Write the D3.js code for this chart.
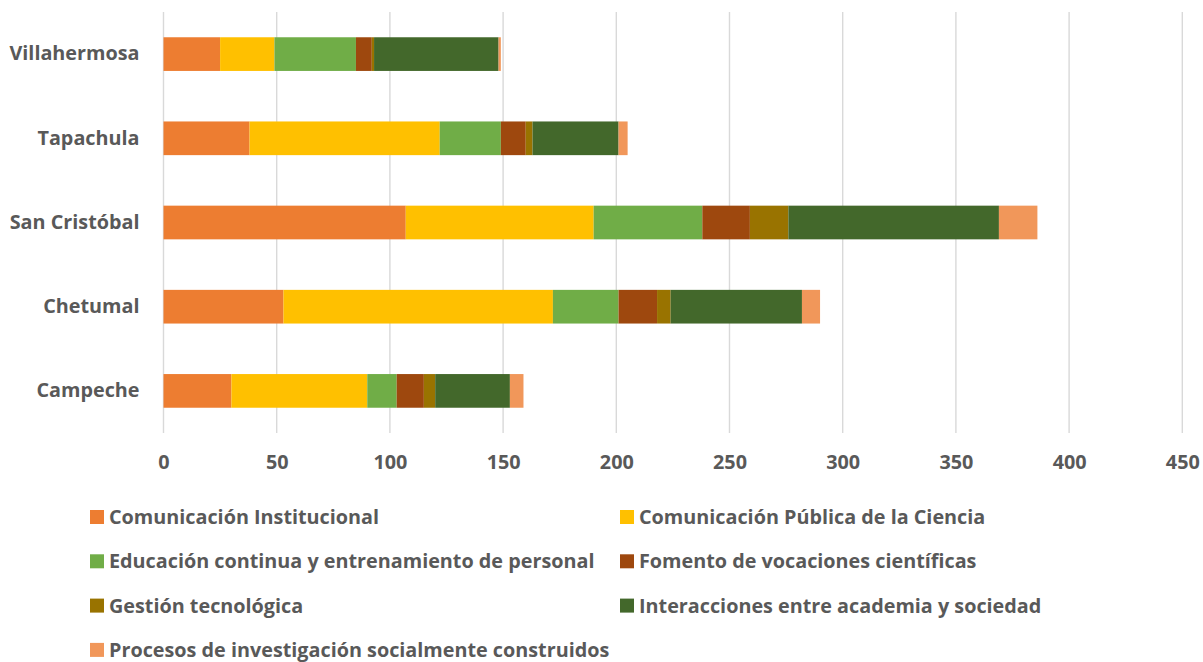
<!DOCTYPE html>
<html>
<head>
<meta charset="utf-8">
<script src="https://cdn.jsdelivr.net/npm/d3@7"></script>
<style>
  html, body { margin: 0; padding: 0; background: #fff; }
  svg { display: block; }
  text { font-family: "Open Sans", "Noto Sans", sans-serif; font-weight: 700; fill: #595959; }
</style>
</head>
<body>
<svg id="chart" width="1203" height="662"></svg>
<script>
const categories = ["Villahermosa", "Tapachula", "San Cristóbal", "Chetumal", "Campeche"];
const seriesNames = [
  "Comunicación Institucional",
  "Comunicación Pública de la Ciencia",
  "Educación continua y entrenamiento de personal",
  "Fomento de vocaciones científicas",
  "Gestión tecnológica",
  "Interacciones entre academia y sociedad",
  "Procesos de investigación socialmente construidos"
];
const seriesColors = ["#ED7D31", "#FFC000", "#70AD47", "#9E480E", "#997300", "#43682B", "#F1975A"];
// values per series, in the order of categories
const comunicacionInstitucional = [25, 38, 107, 53, 30];
const comunicacionPublica       = [24, 84, 83, 119, 60];
const educacionContinua         = [36, 27, 48, 29, 13];
const fomentoVocaciones         = [7, 11, 21, 17, 12];
const gestionTecnologica        = [1, 3, 17, 6, 5];
const interacciones             = [55, 38, 93, 58, 33];
const procesosInvestigacion     = [1, 4, 17, 8, 6];
const tickValues = [0, 50, 100, 150, 200, 250, 300, 350, 400, 450];

const seriesValues = [comunicacionInstitucional, comunicacionPublica, educacionContinua,
  fomentoVocaciones, gestionTecnologica, interacciones, procesosInvestigacion];

const rows = categories.map((c, i) => {
  const r = { category: c };
  seriesNames.forEach((s, j) => r[s] = seriesValues[j][i]);
  return r;
});

const svg = d3.select("#chart");
const plotLeft = 163.5, plotRight = 1182.3, plotTop = 12, plotBottom = 433;
const fontSize = "19.8px";

const x = d3.scaleLinear().domain([0, 450]).range([plotLeft, plotRight]);
const y = d3.scaleBand().domain(categories).range([plotTop, plotBottom]).paddingInner(0.6).paddingOuter(0.3);
const color = d3.scaleOrdinal().domain(seriesNames).range(seriesColors);

// gridlines
svg.append("g")
  .selectAll("line")
  .data(tickValues)
  .join("line")
  .attr("x1", d => x(d)).attr("x2", d => x(d))
  .attr("y1", plotTop).attr("y2", plotBottom)
  .attr("stroke", "#D9D9D9").attr("stroke-width", 1.4);

// bars
const stack = d3.stack().keys(seriesNames);
const stacked = stack(rows);
svg.append("g")
  .selectAll("g")
  .data(stacked)
  .join("g")
  .attr("fill", d => color(d.key))
  .selectAll("rect")
  .data(d => d)
  .join("rect")
  .attr("x", d => x(d[0]))
  .attr("width", d => x(d[1]) - x(d[0]))
  .attr("y", d => y(d.data.category))
  .attr("height", y.bandwidth());

// x axis labels
const xAxis = d3.axisBottom(x).tickValues(tickValues).tickSize(0).tickPadding(0);
const gx = svg.append("g").attr("transform", `translate(0,${plotBottom + 36})`).call(xAxis);
gx.select(".domain").remove();
gx.selectAll("text").style("font-size", fontSize).attr("dy", "0").attr("fill", "#595959")
  .style("font-family", "'Open Sans', sans-serif").style("font-weight", 700);

// y axis labels
const yAxis = d3.axisLeft(y).tickSize(0).tickPadding(24);
const gy = svg.append("g").attr("transform", `translate(${plotLeft},0)`).call(yAxis);
gy.select(".domain").remove();
gy.selectAll("text").style("font-size", fontSize).attr("fill", "#595959")
  .style("font-family", "'Open Sans', sans-serif").style("font-weight", 700);

// legend
const legend = svg.append("g");
const colX = [90, 620];
const rowY0 = 517, rowStep = 44.3;
const items = legend.selectAll("g")
  .data(seriesNames)
  .join("g")
  .attr("transform", (d, i) => `translate(${colX[i % 2]},${rowY0 + Math.floor(i / 2) * rowStep})`);
items.append("rect").attr("x", 0).attr("y", -7).attr("width", 14).attr("height", 14)
  .attr("fill", d => color(d));
items.append("text").attr("x", 19).attr("y", 0).attr("dy", "0.35em")
  .style("font-size", fontSize).text(d => d);
</script>
</body>
</html>
